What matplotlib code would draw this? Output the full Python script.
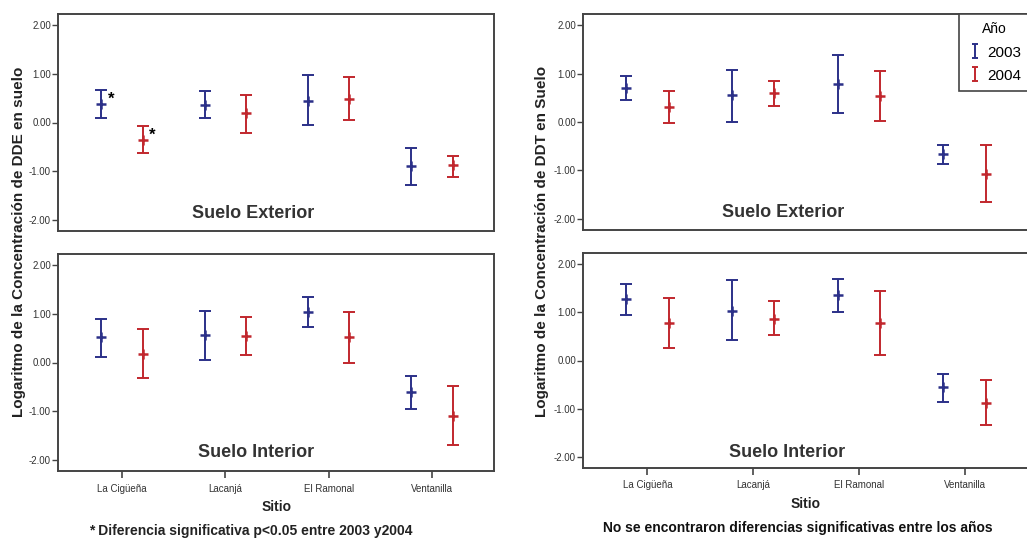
import matplotlib
matplotlib.use('Agg')
import matplotlib.pyplot as plt
from matplotlib.lines import Line2D
from matplotlib.path import Path

plt.rcParams['font.family'] = ['Liberation Sans', 'DejaVu Sans']

# Sites and years
sites = ['La Cigüeña', 'Lacanjá', 'El Ramonal', 'Ventanilla']
years = ['2003', '2004']

# DDE - suelo exterior (mean, lower, upper of the interval)
dde_ext_2003_mean = [0.37, 0.36, 0.45, -0.90]
dde_ext_2003_low = [0.10, 0.09, -0.06, -1.29]
dde_ext_2003_high = [0.66, 0.64, 0.97, -0.53]
dde_ext_2004_mean = [-0.35, 0.20, 0.49, -0.88]
dde_ext_2004_low = [-0.62, -0.21, 0.05, -1.11]
dde_ext_2004_high = [-0.08, 0.57, 0.94, -0.68]

# DDE - suelo interior
dde_int_2003_mean = [0.52, 0.56, 1.03, -0.61]
dde_int_2003_low = [0.12, 0.06, 0.72, -0.95]
dde_int_2003_high = [0.90, 1.05, 1.35, -0.28]
dde_int_2004_mean = [0.17, 0.55, 0.52, -1.10]
dde_int_2004_low = [-0.31, 0.15, -0.02, -1.70]
dde_int_2004_high = [0.68, 0.94, 1.04, -0.48]

# DDT - suelo exterior
ddt_ext_2003_mean = [0.70, 0.55, 0.79, -0.66]
ddt_ext_2003_low = [0.46, 0.01, 0.19, -0.86]
ddt_ext_2003_high = [0.94, 1.08, 1.39, -0.47]
ddt_ext_2004_mean = [0.31, 0.59, 0.54, -1.07]
ddt_ext_2004_low = [-0.03, 0.33, 0.03, -1.66]
ddt_ext_2004_high = [0.64, 0.85, 1.05, -0.47]

# DDT - suelo interior
ddt_int_2003_mean = [1.27, 1.03, 1.36, -0.55]
ddt_int_2003_low = [0.95, 0.42, 1.01, -0.86]
ddt_int_2003_high = [1.58, 1.66, 1.69, -0.27]
ddt_int_2004_mean = [0.78, 0.87, 0.78, -0.88]
ddt_int_2004_low = [0.26, 0.52, 0.12, -1.34]
ddt_int_2004_high = [1.30, 1.23, 1.44, -0.40]

yticks = [-2, -1, 0, 1, 2]
ytick_labels = ['-2.00', '-1.00', '0.00', '1.00', '2.00']

blue = '#2b3088'
red = '#c1272d'
spine_col = '#444444'
W, H = 1027, 540

fig = plt.figure(figsize=(W / 100, H / 100), dpi=100)


def px_axes(x0, x1, top, bottom):
    return fig.add_axes([x0 / W, 1 - bottom / H, (x1 - x0) / W, (bottom - top) / H])


def draw_panel(ax, series, xlim, show_x):
    pos = list(range(len(sites)))
    for (mean, low, high), col, off in zip(series, [blue, red], [-0.2, 0.2]):
        xs = [p + off for p in pos]
        err = [[m - l for m, l in zip(mean, low)], [h - m for m, h in zip(mean, high)]]
        ax.errorbar(xs, mean, yerr=err, fmt='none', ecolor=col, elinewidth=1.4,
                    capsize=4, capthick=1.4)
        ax.plot(xs, mean, '+', color=col, ms=6.5, mew=1.8)
    ax.set_xlim(*xlim)
    ax.set_ylim(-2.23, 2.23)
    ax.set_yticks(yticks)
    ax.set_yticklabels(ytick_labels)
    ax.tick_params(axis='y', length=4, width=1, color=spine_col, labelsize=7,
                   labelcolor='#333333', pad=1)
    if show_x:
        ax.set_xticks(pos)
        ax.set_xticklabels(sites)
        ax.tick_params(axis='x', length=5, width=1.2, color=spine_col, labelsize=7,
                       labelcolor='#333333', pad=4)
    else:
        ax.set_xticks([])
    for s in ax.spines.values():
        s.set_color(spine_col)
        s.set_linewidth(1.4)


ax_lt = px_axes(58, 494, 14, 231)
ax_lb = px_axes(58, 494, 254, 471)
ax_rt = px_axes(583, 1028, 14, 230)
ax_rb = px_axes(583, 1028, 253, 468)

draw_panel(ax_lt, [(dde_ext_2003_mean, dde_ext_2003_low, dde_ext_2003_high),
                   (dde_ext_2004_mean, dde_ext_2004_low, dde_ext_2004_high)],
           (-0.62, 3.6), False)
draw_panel(ax_lb, [(dde_int_2003_mean, dde_int_2003_low, dde_int_2003_high),
                   (dde_int_2004_mean, dde_int_2004_low, dde_int_2004_high)],
           (-0.62, 3.6), True)
draw_panel(ax_rt, [(ddt_ext_2003_mean, ddt_ext_2003_low, ddt_ext_2003_high),
                   (ddt_ext_2004_mean, ddt_ext_2004_low, ddt_ext_2004_high)],
           (-0.61, 3.6), False)
draw_panel(ax_rb, [(ddt_int_2003_mean, ddt_int_2003_low, ddt_int_2003_high),
                   (ddt_int_2004_mean, ddt_int_2004_low, ddt_int_2004_high)],
           (-0.61, 3.6), True)

# panel titles inside the axes
ax_lt.text(1.27, -1.87, 'Suelo Exterior', ha='center', va='center', fontsize=13,
           fontweight='bold', color='#333333')
ax_lb.text(1.3, -1.86, 'Suelo Interior', ha='center', va='center', fontsize=13,
           fontweight='bold', color='#333333')
ax_rt.text(1.28, -1.87, 'Suelo Exterior', ha='center', va='center', fontsize=13,
           fontweight='bold', color='#333333')
ax_rb.text(1.32, -1.90, 'Suelo Interior', ha='center', va='center', fontsize=13,
           fontweight='bold', color='#333333')

# significance marks
ax_lt.text(-0.11, 0.47, '*', ha='center', va='center', fontsize=12, fontweight='bold')
ax_lt.text(0.29, -0.27, '*', ha='center', va='center', fontsize=12, fontweight='bold')

# legend: I-shaped error bar symbol
i_shape = Path([(-0.5, 1), (0.5, 1), (0, 1), (0, -1), (-0.5, -1), (0.5, -1)],
               [Path.MOVETO, Path.LINETO, Path.MOVETO, Path.LINETO, Path.MOVETO, Path.LINETO])
leg_handles = [Line2D([], [], linestyle='none', marker=i_shape, markersize=10,
                     markeredgewidth=1.4, markerfacecolor='none', color=c)
               for c in [blue, red]]
leg = ax_rt.legend(leg_handles, years, title='Año', loc='upper left',
                   bbox_to_anchor=(959 / W, 1 - 14 / H), bbox_transform=fig.transFigure,
                   fancybox=False, edgecolor=spine_col, framealpha=1, fontsize=11,
                   title_fontsize=10, handlelength=1.0, handletextpad=0.3,
                   borderaxespad=0, borderpad=0.55, labelspacing=0.6)
leg.get_frame().set_linewidth(1.2)

fig.text(19 / W, 1 - 242 / H, 'Logaritmo de la Concentración de DDE en suelo',
         rotation=90, ha='center', va='center', fontsize=11, fontweight='bold',
         color='#222222')
fig.text(542 / W, 1 - 241 / H, 'Logaritmo de la Concentración de DDT en Suelo',
         rotation=90, ha='center', va='center', fontsize=11, fontweight='bold',
         color='#222222')

fig.text(277 / W, 1 - 507 / H, 'Sitio', ha='center', va='center', fontsize=10,
         fontweight='bold', color='#222222')
fig.text(806 / W, 1 - 504 / H, 'Sitio', ha='center', va='center', fontsize=10,
         fontweight='bold', color='#222222')

fig.text(251 / W, 1 - 531 / H, '* Diferencia significativa p<0.05 entre 2003 y2004',
         ha='center', va='center', fontsize=10, fontweight='bold', color='#222222')
fig.text(798 / W, 1 - 528 / H, 'No se encontraron diferencias significativas entre los años',
         ha='center', va='center', fontsize=10, fontweight='bold', color='#111111')

fig.savefig('out.png', dpi=100)
